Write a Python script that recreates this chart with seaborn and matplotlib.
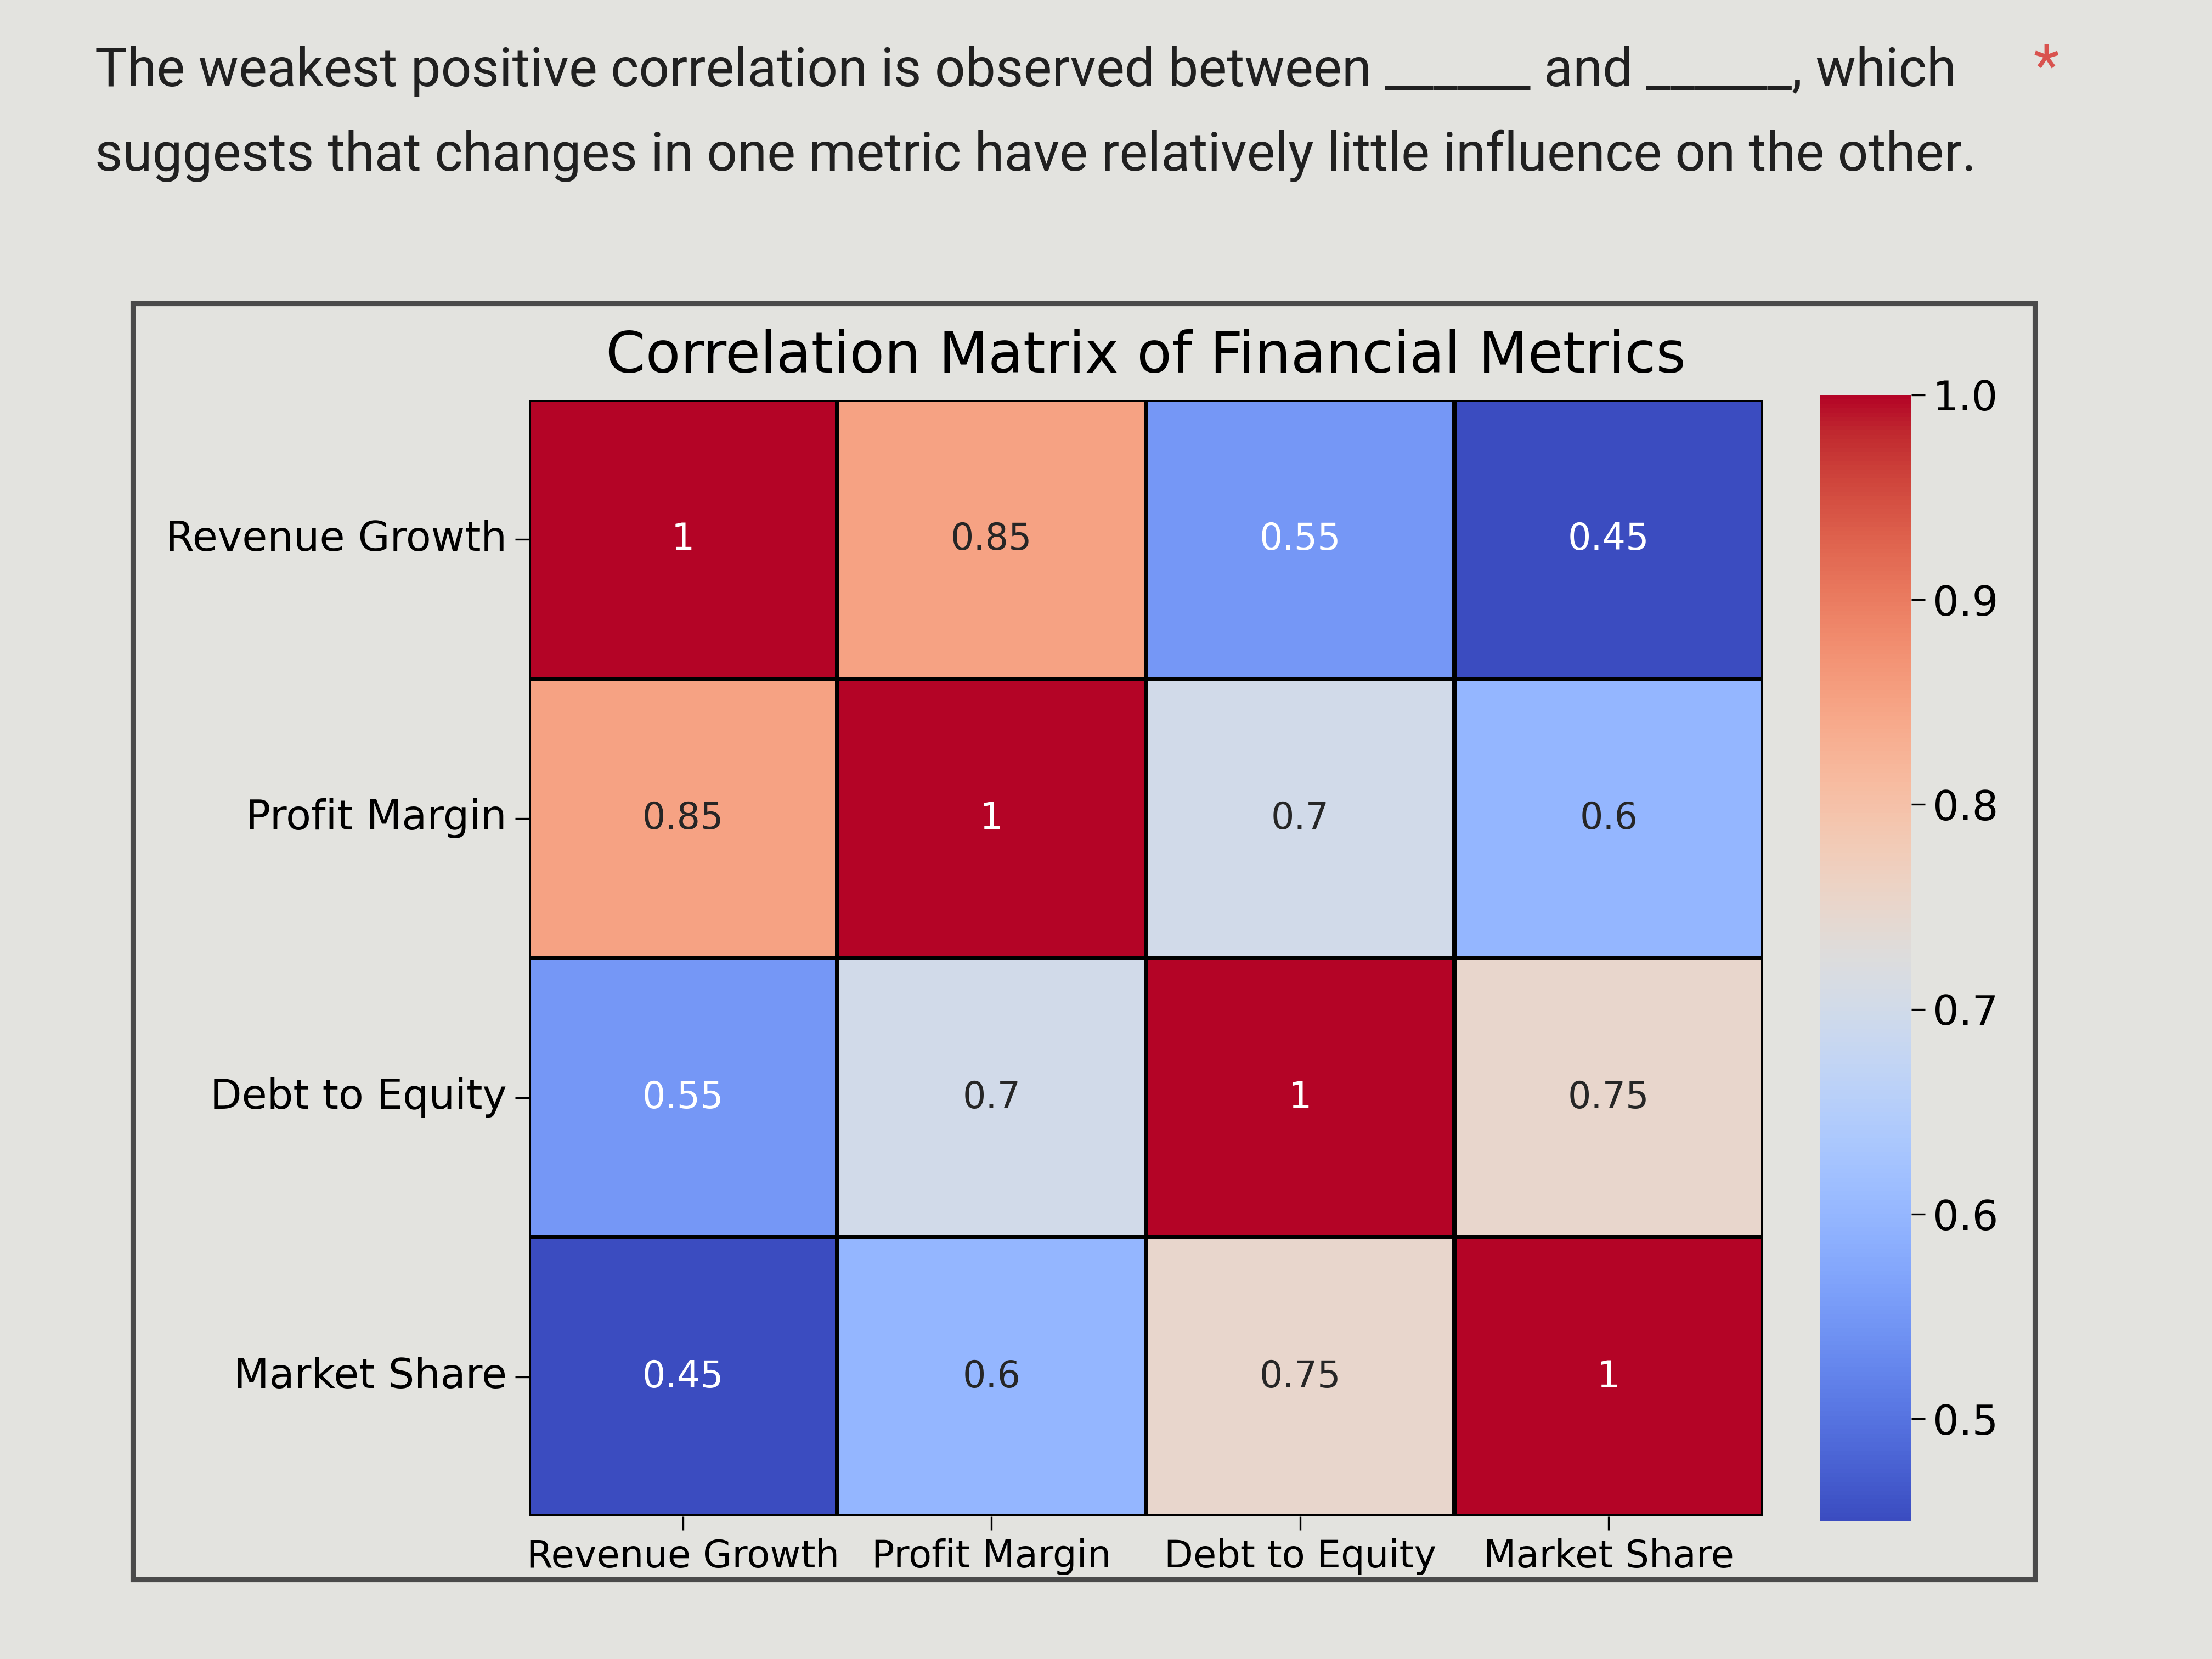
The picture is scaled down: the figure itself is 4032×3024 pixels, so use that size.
import numpy as np
import pandas as pd
import matplotlib.pyplot as plt
import seaborn as sns
from matplotlib.patches import Rectangle

metrics = ["Revenue Growth", "Profit Margin", "Debt to Equity", "Market Share"]
revenue_growth = [1.0, 0.85, 0.55, 0.45]
profit_margin = [0.85, 1.0, 0.7, 0.6]
debt_to_equity = [0.55, 0.7, 1.0, 0.75]
market_share = [0.45, 0.6, 0.75, 1.0]
cbar_ticks = [0.5, 0.6, 0.7, 0.8, 0.9, 1.0]

question_line1 = "The weakest positive correlation is observed between ______ and ______, which"
question_line2 = "suggests that changes in one metric have relatively little influence on the other."


def build_matrix():
    rows = [revenue_growth, profit_margin, debt_to_equity, market_share]
    return pd.DataFrame(np.array(rows), index=metrics, columns=metrics)


def plot_question(fig):
    fig.text(0.043, 0.957, question_line1, family="Roboto", fontsize=23.5,
             color="#202020", va="center", ha="left")
    fig.text(0.043, 0.906, question_line2, family="Roboto", fontsize=23.5,
             color="#202020", va="center", ha="left")
    fig.text(0.925, 0.958, "*", family="Roboto", fontsize=26,
             color="#d9534f", va="center", ha="center")


def plot_heatmap(fig, df):
    ax = fig.add_axes([0.239, 0.086, 0.558, 0.673])
    cax = fig.add_axes([0.823, 0.083, 0.041, 0.679])
    sns.heatmap(
        df, ax=ax, cbar_ax=cax, cmap="coolwarm", vmin=0.45, vmax=1.0,
        annot=True, annot_kws={"fontsize": 16},
        linewidths=1.5, linecolor="black",
        cbar_kws={"ticks": cbar_ticks}
    )
    # the 0.55 cells read white in the original
    for t in ax.texts:
        if t.get_text() in ("1", "0.55", "0.45"):
            t.set_color("white")
        else:
            t.set_color("#262626")
    ax.set_title("Correlation Matrix of Financial Metrics", fontsize=25, pad=12)
    ax.tick_params(axis="y", labelsize=18, length=6)
    ax.tick_params(axis="x", labelsize=16.5, length=6)
    ax.set_yticklabels(ax.get_yticklabels(), rotation=0)
    ax.set_xticklabels(ax.get_xticklabels(), rotation=0)
    cax.tick_params(labelsize=18, length=6)
    cax.set_yticklabels(["0.5", "0.6", "0.7", "0.8", "0.9", "1.0"])


if __name__ == "__main__":
    df = build_matrix()
    fig = plt.figure(figsize=(13.44, 10.08), dpi=300)
    fig.patch.set_facecolor("#e3e3df")

    plot_question(fig)

    # the chart image sits inside a thin bordered frame
    frame = Rectangle((0.060, 0.048), 0.860, 0.769, transform=fig.transFigure,
                      fill=False, edgecolor="#4a4a4a", linewidth=2.2)
    fig.patches.append(frame)

    plot_heatmap(fig, df)

    fig.savefig("out.png", dpi=300, facecolor=fig.get_facecolor())
    plt.close(fig)
